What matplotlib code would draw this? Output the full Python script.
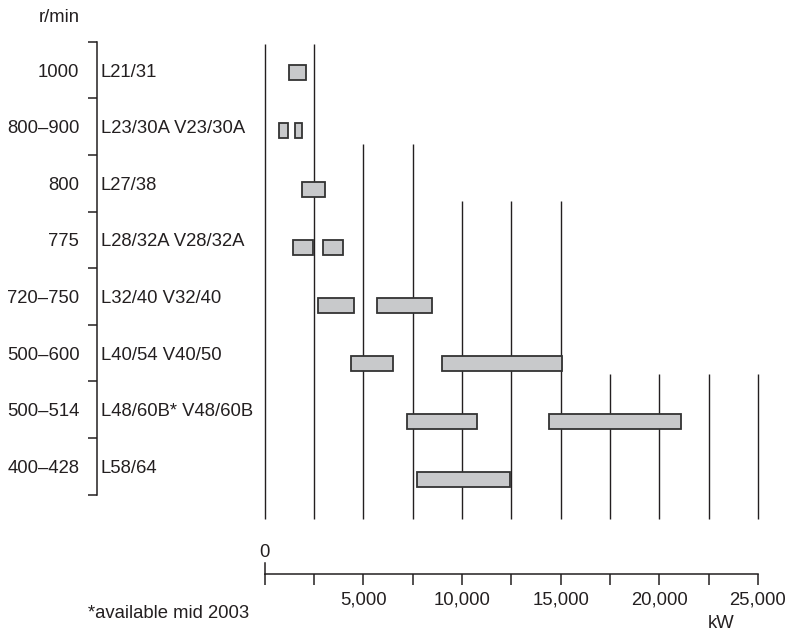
#!/usr/bin/env python3
"""
Engine programme chart: speed bands vs. power range (kW)
"""

import matplotlib
matplotlib.use("Agg")
import matplotlib.pyplot as plt
from matplotlib.transforms import offset_copy
from matplotlib.ticker import FixedLocator, FuncFormatter

# --- data ---------------------------------------------------------------
speeds = ['1000', '800–900', '800', '775', '720–750', '500–600', '500–514', '400–428']
models = ['L21/31', 'L23/30A V23/30A', 'L27/38', 'L28/32A V28/32A',
          'L32/40 V32/40', 'L40/54 V40/50', 'L48/60B* V48/60B', 'L58/64']

# power ranges (kW), one bar each
bar_row = [0, 1, 1, 2, 3, 3, 4, 4, 5, 5, 6, 6, 7]
bar_start = [1250, 710, 1520, 1905, 1435, 2940, 2700, 5710, 4390, 8985, 7230, 14425, 7720]
bar_end = [2075, 1165, 1905, 3055, 2450, 3970, 4525, 8480, 6500, 15080, 10760, 21100, 12420]

# reference lines every 2,500 kW and the row each one starts under
grid_kw = [0, 2500, 5000, 7500, 10000, 12500, 15000, 17500, 20000, 22500, 25000]
grid_top = [-0.5, -0.5, 1.22, 1.22, 2.2, 2.2, 2.2, 5.18, 5.18, 5.18, 5.18]
grid_bottom = 7.68

x_ticks = [0, 2500, 5000, 7500, 10000, 12500, 15000, 17500, 20000, 22500, 25000]
x_labels = {5000: '5,000', 10000: '10,000', 15000: '15,000', 20000: '20,000', 25000: '25,000'}

# --- style --------------------------------------------------------------
W, H = 790, 633
INK = '#231f20'
FS = 13.3
plt.rcParams['font.family'] = ['Liberation Sans', 'DejaVu Sans']
plt.rcParams['text.color'] = INK
plt.rcParams['axes.edgecolor'] = INK
plt.rcParams['xtick.color'] = INK
plt.rcParams['ytick.color'] = INK

fig = plt.figure(figsize=(W / 100, H / 100), dpi=100)

# pixel geometry of the plotting area
x0_px, px_per_kw = 264.7, 493.3 / 25000
y0_px, px_per_row = 72.8, 58.13

# main area: kW horizontally, rows vertically (row 0 at top)
ax = fig.add_axes([0, 0, 1, 1])
ax.set_xlim(-x0_px / px_per_kw, (W - x0_px) / px_per_kw)
ax.set_ylim((H - y0_px) / px_per_row, -y0_px / px_per_row)
ax.axis('off')

ax.vlines(grid_kw, grid_top, grid_bottom, colors=INK, linewidth=1.0, zorder=2)
ax.barh(bar_row, [e - s for s, e in zip(bar_start, bar_end)], left=bar_start,
        height=0.26, color='#c8c9cb', edgecolor='#333333', linewidth=1.3, zorder=3)

# left bracket with speeds and engine types
bk_x, bk_top, bk_bot = 96.7, 41.7, 494.7
axb = fig.add_axes([bk_x / W, 1 - bk_bot / H, 0.001, (bk_bot - bk_top) / H])
axb.set_ylim(len(speeds), 0)
axb.set_xlim(0, 1)
for s in ['top', 'right', 'bottom']:
    axb.spines[s].set_visible(False)
axb.spines['left'].set_linewidth(1.1)
axb.set_xticks([])
axb.yaxis.set_major_locator(FixedLocator(range(len(speeds) + 1)))
axb.yaxis.set_major_formatter(FuncFormatter(lambda v, p: ''))
axb.yaxis.set_minor_locator(FixedLocator([i + 0.5 for i in range(len(speeds))]))
axb.set_yticklabels(speeds, minor=True, fontsize=FS)
axb.tick_params(axis='y', which='major', length=6.2, width=1.1, direction='out')
axb.tick_params(axis='y', which='minor', length=0, pad=12.5)

name_tr = offset_copy(axb.get_yaxis_transform(), fig=fig, x=3.0, y=0, units='points')
for i, name in enumerate(models):
    axb.text(0, i + 0.5, name, transform=name_tr, fontsize=FS,
             ha='left', va='center_baseline', clip_on=False)

fig.text(80 / W, 1 - 21.7 / H, 'r/min', fontsize=FS, ha='right', va='baseline')

# bottom kW scale
ax_y, up_len = 574.3, 11.3
axx = fig.add_axes([x0_px / W, 1 - ax_y / H, 493.3 / W, up_len / H])
axx.set_xlim(0, 25000)
axx.set_ylim(0, 1)
for s in ['top', 'right']:
    axx.spines[s].set_visible(False)
axx.spines['left'].set_linewidth(1.1)
axx.spines['bottom'].set_linewidth(1.1)
axx.set_yticks([])
axx.set_xticks(x_ticks)
axx.set_xticklabels([x_labels.get(t, '') for t in x_ticks], fontsize=FS)
axx.tick_params(axis='x', length=8.2, width=1.1, direction='out', pad=4)
axx.text(0, 1.15, '0', fontsize=FS, ha='center', va='bottom')

fig.text(708 / W, 1 - 623 / H, 'kW', fontsize=FS, ha='left', va='center')
fig.text(88 / W, 1 - 613 / H, '*available mid 2003', fontsize=FS, ha='left', va='center')

fig.savefig('out.png', dpi=100)
